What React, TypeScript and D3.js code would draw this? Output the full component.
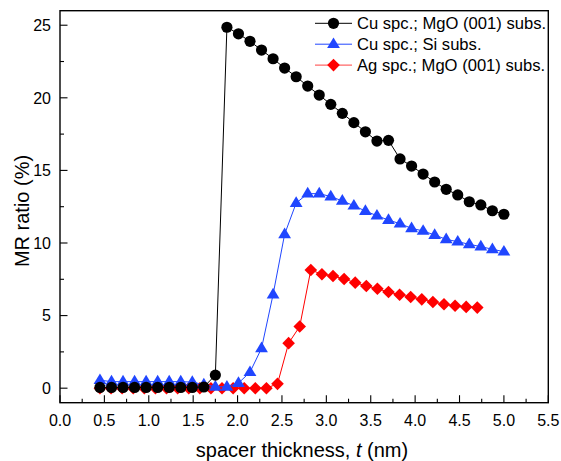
import React from "react";
import * as d3 from "d3";

// ---- data ----
const cuMgoX = [0.45, 0.58, 0.71, 0.84, 0.97, 1.10, 1.23, 1.36, 1.49, 1.62, 1.75, 1.88, 2.01, 2.14, 2.27, 2.40, 2.53, 2.66, 2.79, 2.92, 3.05, 3.18, 3.31, 3.44, 3.57, 3.70, 3.83, 3.96, 4.09, 4.22, 4.35, 4.48, 4.61, 4.74, 4.87, 5.00];
const cuMgoY = [0.05, 0.05, 0.05, 0.05, 0.05, 0.05, 0.05, 0.05, 0.05, 0.08, 0.9, 24.86, 24.41, 23.89, 23.29, 22.69, 22.05, 21.45, 20.81, 20.19, 19.55, 18.93, 18.29, 17.66, 17.02, 17.07, 15.79, 15.30, 14.75, 14.20, 13.70, 13.31, 12.84, 12.62, 12.22, 11.98];

const cuSiX = [0.45, 0.58, 0.71, 0.84, 0.97, 1.10, 1.23, 1.36, 1.49, 1.62, 1.75, 1.88, 2.01, 2.14, 2.27, 2.40, 2.53, 2.66, 2.79, 2.92, 3.05, 3.18, 3.31, 3.44, 3.57, 3.70, 3.83, 3.96, 4.09, 4.22, 4.35, 4.48, 4.61, 4.74, 4.87, 5.00];
const cuSiY = [0.55, 0.45, 0.45, 0.45, 0.45, 0.45, 0.45, 0.45, 0.42, 0.25, 0.1, 0.1, 0.35, 1.1, 2.75, 6.45, 10.6, 12.75, 13.4, 13.4, 13.2, 12.9, 12.57, 12.2, 11.88, 11.58, 11.33, 11.01, 10.83, 10.55, 10.25, 10.09, 9.91, 9.75, 9.57, 9.4];

const agMgoX = [0.45, 0.575, 0.70, 0.825, 0.95, 1.075, 1.20, 1.325, 1.45, 1.575, 1.70, 1.825, 1.95, 2.075, 2.20, 2.325, 2.45, 2.575, 2.70, 2.825, 2.95, 3.075, 3.20, 3.325, 3.45, 3.575, 3.70, 3.825, 3.95, 4.075, 4.20, 4.325, 4.45, 4.575, 4.70];
const agMgoY = [0.0, 0.0, 0.0, 0.0, 0.0, 0.0, 0.0, 0.0, 0.0, 0.0, 0.0, 0.0, 0.0, 0.0, 0.0, 0.0, 0.3, 3.1, 4.25, 8.14, 7.85, 7.73, 7.52, 7.27, 7.04, 6.85, 6.62, 6.44, 6.28, 6.12, 5.94, 5.78, 5.68, 5.6, 5.55];

const seriesNames = ["Cu spc.; MgO (001) subs.", "Cu spc.; Si subs.", "Ag spc.; MgO (001) subs."];
const xTickValues = [0, 0.5, 1, 1.5, 2, 2.5, 3, 3.5, 4, 4.5, 5, 5.5];
const xMinorValues = [0.25, 0.75, 1.25, 1.75, 2.25, 2.75, 3.25, 3.75, 4.25, 4.75, 5.25];
const yTickValues = [0, 5, 10, 15, 20, 25];
const yMinorValues = [2.5, 7.5, 12.5, 17.5, 22.5];

const FONT = "'Liberation Sans', Arial, Helvetica, sans-serif";
const BLUE = "#2046ff";
const RED = "#ff0000";

const x = d3.scaleLinear().domain([0, 5.5]).range([60, 548.3]);
const y = d3.scaleLinear().domain([-1, 26]).range([402.7, 10.7]);

type Shape = "circle" | "triangle" | "diamond";

function Marker({ cx, cy, shape, color }: { cx: number; cy: number; shape: Shape; color: string }) {
  if (shape === "circle") return <circle cx={cx} cy={cy} r={5.6} fill={color} />;
  if (shape === "triangle") {
    const w = 6.4, hTop = 6.8, hBot = 3.9;
    return <path d={`M${cx},${cy - hTop}L${cx + w},${cy + hBot}L${cx - w},${cy + hBot}Z`} fill={color} />;
  }
  const r = 6.3;
  return <path d={`M${cx},${cy - r}L${cx + r},${cy}L${cx},${cy + r}L${cx - r},${cy}Z`} fill={color} />;
}

function Series({ xs, ys, shape, color }: { xs: number[]; ys: number[]; shape: Shape; color: string }) {
  const pts: [number, number][] = xs.map((v, i) => [x(v), y(ys[i])]);
  const line = d3.line()(pts) || "";
  return (
    <g>
      <path d={line} fill="none" stroke={color} strokeWidth={1} />
      {pts.map((p, i) => (
        <Marker key={i} cx={p[0]} cy={p[1]} shape={shape} color={color} />
      ))}
    </g>
  );
}

export default function App() {
  const [x0, x1] = x.range();
  const [yb, yt] = y.range();
  const legendItems: { name: string; shape: Shape; color: string; line: string }[] = [
    { name: seriesNames[0], shape: "circle", color: "#000", line: "#000" },
    { name: seriesNames[1], shape: "triangle", color: BLUE, line: BLUE },
    { name: seriesNames[2], shape: "diamond", color: RED, line: "#ff4040" },
  ];
  return (
    <svg width={561} height={461} style={{ position: "absolute", left: 0, top: 0, background: "#fff" }} fontFamily={FONT}>
      <rect x={0} y={0} width={561} height={461} fill="#fff" />
      {/* series */}
      <Series xs={agMgoX} ys={agMgoY} shape="diamond" color={RED} />
      <Series xs={cuSiX} ys={cuSiY} shape="triangle" color={BLUE} />
      <Series xs={cuMgoX} ys={cuMgoY} shape="circle" color="#000" />

      {/* frame */}
      <rect x={x0} y={yt} width={x1 - x0} height={yb - yt} fill="none" stroke="#000" strokeWidth={1.4} />

      {/* x ticks */}
      {xTickValues.map((v) => (
        <g key={"xt" + v}>
          <line x1={x(v)} x2={x(v)} y1={yb} y2={yb - 7.5} stroke="#000" strokeWidth={1.1} />
          <text x={x(v)} y={426} fontSize={16} textAnchor="middle" fill="#000">
            {v.toFixed(1)}
          </text>
        </g>
      ))}
      {xMinorValues.map((v) => (
        <line key={"xm" + v} x1={x(v)} x2={x(v)} y1={yb} y2={yb - 4} stroke="#000" strokeWidth={1.1} />
      ))}

      {/* y ticks */}
      {yTickValues.map((v) => (
        <g key={"yt" + v}>
          <line x1={x0} x2={x0 + 7.5} y1={y(v)} y2={y(v)} stroke="#000" strokeWidth={1.1} />
          <text x={51} y={y(v)} dy="0.36em" fontSize={16} textAnchor="end" fill="#000">
            {v}
          </text>
        </g>
      ))}
      {yMinorValues.map((v) => (
        <line key={"ym" + v} x1={x0} x2={x0 + 4} y1={y(v)} y2={y(v)} stroke="#000" strokeWidth={1.1} />
      ))}

      {/* axis titles */}
      <text x={302} y={457} fontSize={20} textAnchor="middle" fill="#000">
        spacer thickness, <tspan fontStyle="italic">t</tspan> (nm)
      </text>
      <text transform={`translate(29,211) rotate(-90)`} fontSize={20} textAnchor="middle" fill="#000">
        MR ratio (%)
      </text>

      {/* legend */}
      {legendItems.map((it, i) => {
        const ly = 23.3 + i * 20.9;
        return (
          <g key={"lg" + i}>
            <line x1={315} x2={352} y1={ly} y2={ly} stroke={it.line} strokeWidth={1} />
            <Marker cx={333.5} cy={ly} shape={it.shape} color={it.color} />
            <text x={357} y={ly} dy="0.36em" fontSize={16.6} fill="#000">
              {it.name}
            </text>
          </g>
        );
      })}
    </svg>
  );
}
